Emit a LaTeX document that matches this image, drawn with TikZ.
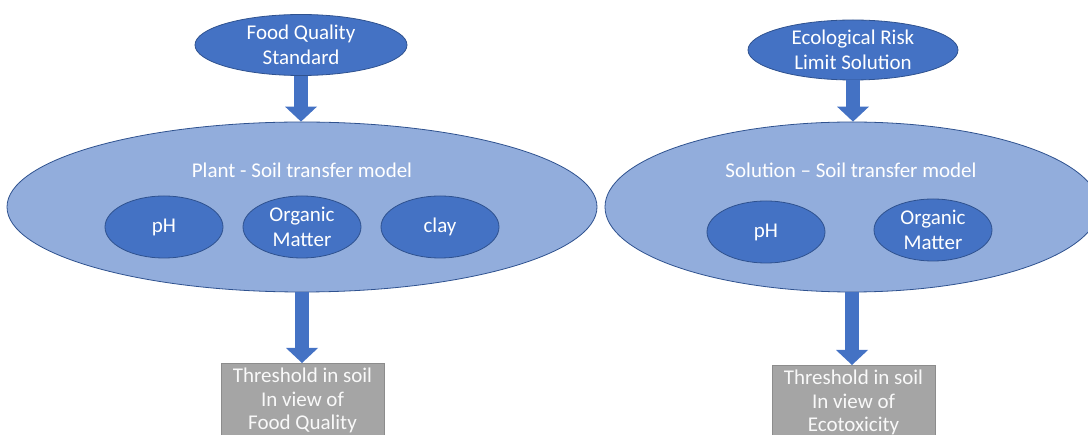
\documentclass[tikz,border=0pt]{standalone}
\usepackage{fontspec}
\setmainfont{Carlito}
\usetikzlibrary{shapes.geometric,arrows.meta}
\definecolor{dblue}{HTML}{4472C4}
\definecolor{eborder}{HTML}{2F528F}
\definecolor{lblue}{HTML}{92ADDC}
\definecolor{gbox}{HTML}{A5A5A5}
\definecolor{gborder}{HTML}{8C8C8C}
\begin{document}
\begin{tikzpicture}[x=1pt,y=-1pt,
  txt/.style={text=white, align=center, font=\fontsize{21}{25}\selectfont},
  bigell/.style={ellipse, draw=eborder, line width=0.8pt, fill=lblue, inner sep=0pt},
  smallell/.style={ellipse, draw=eborder, line width=0.8pt, fill=dblue, inner sep=0pt,
     minimum width=118pt, minimum height=62pt, txt},
  topell/.style={ellipse, draw=eborder, line width=0.8pt, fill=dblue, inner sep=0pt,
     minimum width=212pt, minimum height=61pt, txt},
  graybox/.style={rectangle, draw=gborder, line width=0.8pt, fill=gbox,
     minimum width=163pt, minimum height=90pt, anchor=north},
  boxtxt/.style={text=white!95!gray, align=center, font=\fontsize{21}{23.5}\selectfont,
     inner xsep=2pt, inner ysep=5pt, anchor=north},
  blockarrow/.style={draw=dblue, line width=14pt,
     -{Triangle[width=32pt,length=15pt,line width=0pt]}},
]
\useasboundingbox (0,0) rectangle (1088,435);

% left column
\node[bigell, minimum width=590pt, minimum height=170pt] (plant) at (302,207) {};
\node[txt] (plantlbl) at (302,170) {Plant - Soil transfer model};
\node[smallell] (ph1) at (164,227) {pH};
\node[smallell] (om1) at (302,227) {Organic\\Matter};
\node[smallell] (clay) at (440,227) {clay};
\node[topell] (fq) at (301,45) {Food Quality\\Standard};
\node[graybox] (box1) at (302.5,363) {};
\node[boxtxt] (box1txt) at (box1.north) {Threshold in soil\\In view of\\Food Quality};

% right column
\node[bigell, minimum width=494pt, minimum height=170pt] (sol) at (852,207) {};
\node[txt] (sollbl) at (851,170) {Solution -- Soil transfer model};
\node[smallell] (ph2) at (766,232) {pH};
\node[smallell] (om2) at (933,230) {Organic\\Matter};
\node[topell, minimum width=210pt, minimum height=60pt] (eco) at (853,50) {Ecological Risk\\Limit Solution};
\node[graybox] (box2) at (853.5,365) {};
\node[boxtxt] (box2txt) at (box2.north) {Threshold in soil\\In view of\\Ecotoxicity};

% arrows
\draw[blockarrow] (fq.south) -- (fq.south |- plant.north);
\draw[blockarrow] (plant.south) -- (plant.south |- box1.north);
\draw[blockarrow] (eco.south) -- (eco.south |- sol.north);
\draw[blockarrow] (sol.south) -- (sol.south |- box2.north);
\end{tikzpicture}
\end{document}
